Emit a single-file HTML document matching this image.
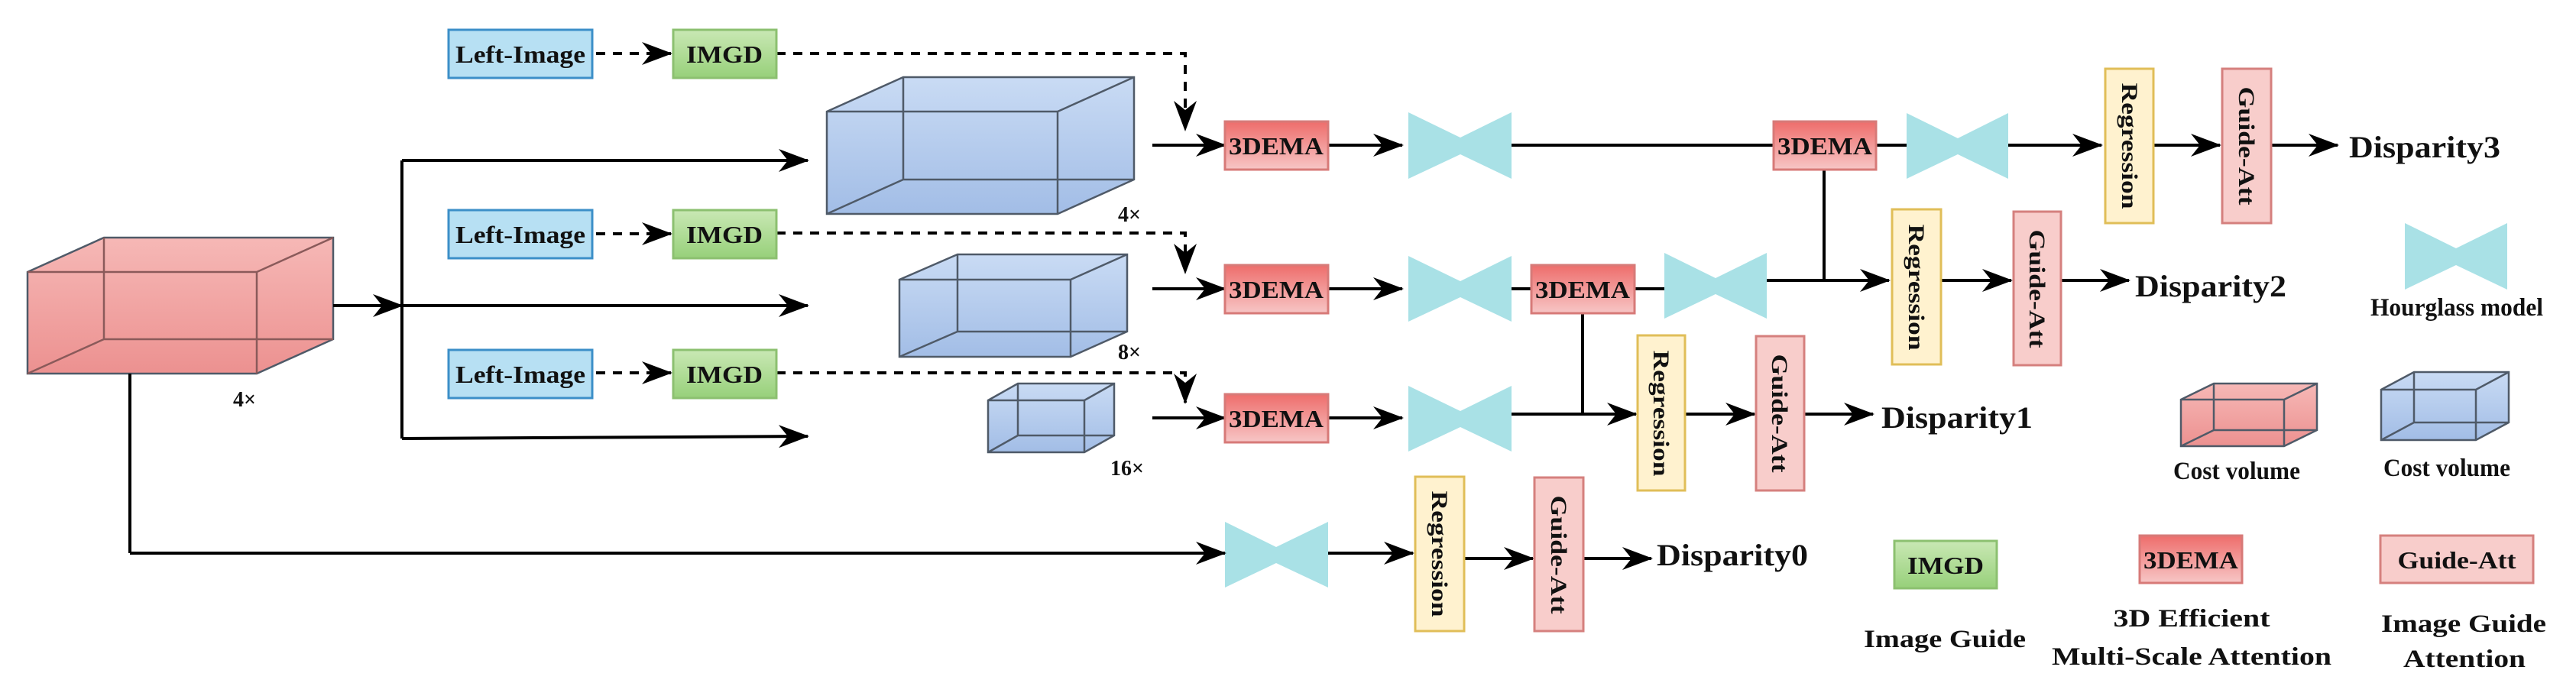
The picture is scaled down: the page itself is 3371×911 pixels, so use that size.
<!DOCTYPE html>
<html><head><meta charset="utf-8"><style>
html,body{margin:0;padding:0;background:#fff;}
svg{display:block;}
text{font-family:"Liberation Serif",serif;font-weight:bold;fill:#111;}
</style></head><body>
<svg width="3371" height="911" viewBox="0 0 3371 911" xmlns="http://www.w3.org/2000/svg">
<defs>
<marker id="ah" viewBox="0 0 40 30" refX="38" refY="15" markerWidth="40" markerHeight="30" markerUnits="userSpaceOnUse" orient="auto">
<path d="M0,0 L40,15 L0,30 L12,15 Z" fill="#000"/></marker>
<linearGradient id="gDema" x1="0" y1="0" x2="0" y2="1"><stop offset="0" stop-color="#ee6d6b"/><stop offset="1" stop-color="#f7c6c6"/></linearGradient>
<linearGradient id="gImgd" x1="0" y1="0" x2="0" y2="1"><stop offset="0" stop-color="#c9e8b4"/><stop offset="1" stop-color="#97d07a"/></linearGradient>
<linearGradient id="gBlue" x1="0" y1="0" x2="0" y2="1"><stop offset="0" stop-color="#c9dbf4"/><stop offset="1" stop-color="#a2bde6"/></linearGradient>
<linearGradient id="gRed" x1="0" y1="0" x2="0" y2="1"><stop offset="0" stop-color="#f6b8b6"/><stop offset="1" stop-color="#ec9190"/></linearGradient>
</defs>

<g stroke="#4f5a68" stroke-width="2.5">
<path d="M36,356 L136,311 L436,311 L436,444 L336,489 L36,489 Z" fill="url(#gRed)"/>
<path d="M36,356 H336 V489 M336,356 L436,311 M136,311 V444 H436 M136,444 L36,489" fill="none" stroke="#8a5a5a"/>
<path d="M1082,146 L1182,101 L1484,101 L1484,235 L1384,280 L1082,280 Z" fill="url(#gBlue)"/>
<path d="M1082,146 H1384 V280 M1384,146 L1484,101 M1182,101 V235 H1484 M1182,235 L1082,280" fill="none"/>
<path d="M1177,366 L1253,333 L1475,333 L1475,434 L1401,467 L1177,467 Z" fill="url(#gBlue)"/>
<path d="M1177,366 H1401 V467 M1401,366 L1475,333 M1253,333 V434 H1475 M1253,434 L1177,467" fill="none"/>
<path d="M1293,524 L1332,502 L1458,502 L1458,570 L1419,592 L1293,592 Z" fill="url(#gBlue)"/>
<path d="M1293,524 H1419 V592 M1419,524 L1458,502 M1332,502 V570 H1458 M1332,570 L1293,592" fill="none"/>
<path d="M2854,523 L2897,502 L3032,502 L3032,563 L2989,584 L2854,584 Z" fill="url(#gRed)"/>
<path d="M2854,523 H2989 V584 M2989,523 L3032,502 M2897,502 V563 H3032 M2897,563 L2854,584" fill="none"/>
<path d="M3116,510 L3159,487 L3283,487 L3283,553 L3240,576 L3116,576 Z" fill="url(#gBlue)"/>
<path d="M3116,510 H3240 V576 M3240,510 L3283,487 M3159,487 V553 H3283 M3159,553 L3116,576" fill="none"/>
</g>
<g font-size="28">
<text x="305" y="532">4×</text>
<text x="1463" y="290">4×</text>
<text x="1463" y="470">8×</text>
<text x="1453" y="622">16×</text>
</g>

<g fill="#a9e1e6">
<path d="M1843,147 L1911,180 L1978,147 L1978,234 L1911,202 L1843,234 Z"/>
<path d="M1843,335 L1911,368 L1978,335 L1978,421 L1911,389 L1843,421 Z"/>
<path d="M1843,505 L1911,538 L1978,505 L1978,591 L1911,559 L1843,591 Z"/>
<path d="M2178,331 L2245,364 L2312,331 L2312,417 L2245,385 L2178,417 Z"/>
<path d="M2495,148 L2562,181 L2628,148 L2628,234 L2562,202 L2495,234 Z"/>
<path d="M1603,683 L1670,716 L1738,683 L1738,769 L1670,737 L1603,769 Z"/>
<path d="M3147,292 L3214,325 L3281,292 L3281,379 L3214,347 L3147,379 Z"/>
</g>

<g stroke="#000" stroke-width="4" fill="none">
<line x1="436" y1="400" x2="526" y2="400" marker-end="url(#ah)"/>
<line x1="526" y1="210" x2="526" y2="574"/>
<line x1="526" y1="210" x2="1057" y2="210" marker-end="url(#ah)"/>
<line x1="526" y1="400" x2="1057" y2="400" marker-end="url(#ah)"/>
<line x1="526" y1="574" x2="1057" y2="571" marker-end="url(#ah)"/>
<line x1="170" y1="489" x2="170" y2="724"/>
<line x1="170" y1="724" x2="1603" y2="724" marker-end="url(#ah)"/>
<line x1="1508" y1="190" x2="1603" y2="190" marker-end="url(#ah)"/>
<line x1="1508" y1="378" x2="1603" y2="378" marker-end="url(#ah)"/>
<line x1="1508" y1="547" x2="1603" y2="547" marker-end="url(#ah)"/>
<line x1="1738" y1="190" x2="1835" y2="190" marker-end="url(#ah)"/>
<line x1="1738" y1="378" x2="1835" y2="378" marker-end="url(#ah)"/>
<line x1="1738" y1="547" x2="1835" y2="547" marker-end="url(#ah)"/>
<line x1="1978" y1="190" x2="2321" y2="190"/>
<line x1="2455" y1="190" x2="2495" y2="190"/>
<line x1="2628" y1="190" x2="2750" y2="190" marker-end="url(#ah)"/>
<line x1="2818" y1="190" x2="2905" y2="190" marker-end="url(#ah)"/>
<line x1="2972" y1="190" x2="3059" y2="190" marker-end="url(#ah)"/>
<line x1="2387" y1="222" x2="2387" y2="367"/>
<line x1="1978" y1="378" x2="2004" y2="378"/>
<line x1="2139" y1="378" x2="2178" y2="378"/>
<line x1="2312" y1="367" x2="2472" y2="367" marker-end="url(#ah)"/>
<line x1="2540" y1="367" x2="2632" y2="367" marker-end="url(#ah)"/>
<line x1="2697" y1="367" x2="2786" y2="367" marker-end="url(#ah)"/>
<line x1="2071" y1="410" x2="2071" y2="542"/>
<line x1="1978" y1="542" x2="2141" y2="542" marker-end="url(#ah)"/>
<line x1="2205" y1="542" x2="2296" y2="542" marker-end="url(#ah)"/>
<line x1="2361" y1="542" x2="2451" y2="542" marker-end="url(#ah)"/>
<line x1="1738" y1="724" x2="1849" y2="724" marker-end="url(#ah)"/>
<line x1="1916" y1="731" x2="2006" y2="731" marker-end="url(#ah)"/>
<line x1="2072" y1="731" x2="2161" y2="731" marker-end="url(#ah)"/>
</g>
<g stroke="#000" stroke-width="4" fill="none" stroke-dasharray="12 10">
<line x1="780" y1="70" x2="878" y2="70" marker-end="url(#ah)"/>
<line x1="780" y1="306" x2="878" y2="306" marker-end="url(#ah)"/>
<line x1="780" y1="488" x2="878" y2="488" marker-end="url(#ah)"/>
<polyline points="1016,70 1551,70 1551,170" marker-end="url(#ah)"/>
<polyline points="1016,305 1551,305 1551,357" marker-end="url(#ah)"/>
<polyline points="1016,488 1551,488 1551,527" marker-end="url(#ah)"/>
</g>

<g stroke-width="3">
<rect x="587" y="39" width="188" height="63" fill="#b7e0f3" stroke="#3c8fc8"/>
<rect x="587" y="275" width="188" height="63" fill="#b7e0f3" stroke="#3c8fc8"/>
<rect x="587" y="458" width="188" height="63" fill="#b7e0f3" stroke="#3c8fc8"/>
<rect x="881" y="39" width="135" height="63" fill="url(#gImgd)" stroke="#8cc070"/>
<rect x="881" y="275" width="135" height="63" fill="url(#gImgd)" stroke="#8cc070"/>
<rect x="881" y="458" width="135" height="63" fill="url(#gImgd)" stroke="#8cc070"/>
<rect x="2479" y="708" width="134" height="62" fill="url(#gImgd)" stroke="#8cc070"/>
<rect x="1603" y="159" width="135" height="63" fill="url(#gDema)" stroke="#d77a78"/>
<rect x="1603" y="347" width="135" height="63" fill="url(#gDema)" stroke="#d77a78"/>
<rect x="1603" y="516" width="135" height="63" fill="url(#gDema)" stroke="#d77a78"/>
<rect x="2321" y="159" width="134" height="63" fill="url(#gDema)" stroke="#d77a78"/>
<rect x="2004" y="347" width="135" height="63" fill="url(#gDema)" stroke="#d77a78"/>
<rect x="2800" y="701" width="134" height="62" fill="url(#gDema)" stroke="#d77a78"/>
<rect x="2755" y="90" width="63" height="202" fill="#fff2cf" stroke="#e0be58"/>
<rect x="2476" y="274" width="64" height="203" fill="#fff2cf" stroke="#e0be58"/>
<rect x="2143" y="439" width="62" height="203" fill="#fff2cf" stroke="#e0be58"/>
<rect x="1852" y="624" width="64" height="202" fill="#fff2cf" stroke="#e0be58"/>
<rect x="2908" y="90" width="64" height="202" fill="#f8cdcb" stroke="#d5807e"/>
<rect x="2635" y="277" width="62" height="201" fill="#f8cdcb" stroke="#d5807e"/>
<rect x="2298" y="440" width="63" height="202" fill="#f8cdcb" stroke="#d5807e"/>
<rect x="2008" y="625" width="64" height="201" fill="#f8cdcb" stroke="#d5807e"/>
<rect x="3115" y="701" width="200" height="62" fill="#f8cdcb" stroke="#d5807e"/>
</g>

<g font-size="32" text-anchor="middle">
<text x="681" y="82" textLength="170" lengthAdjust="spacingAndGlyphs">Left-Image</text>
<text x="681" y="318" textLength="170" lengthAdjust="spacingAndGlyphs">Left-Image</text>
<text x="681" y="501" textLength="170" lengthAdjust="spacingAndGlyphs">Left-Image</text>
<text x="948" y="82" textLength="100" lengthAdjust="spacingAndGlyphs">IMGD</text>
<text x="948" y="318" textLength="100" lengthAdjust="spacingAndGlyphs">IMGD</text>
<text x="948" y="501" textLength="100" lengthAdjust="spacingAndGlyphs">IMGD</text>
<text x="2546" y="751" textLength="100" lengthAdjust="spacingAndGlyphs">IMGD</text>
<text x="1670" y="202" textLength="124" lengthAdjust="spacingAndGlyphs">3DEMA</text>
<text x="1670" y="390" textLength="124" lengthAdjust="spacingAndGlyphs">3DEMA</text>
<text x="1670" y="559" textLength="124" lengthAdjust="spacingAndGlyphs">3DEMA</text>
<text x="2388" y="202" textLength="124" lengthAdjust="spacingAndGlyphs">3DEMA</text>
<text x="2071" y="390" textLength="124" lengthAdjust="spacingAndGlyphs">3DEMA</text>
<text x="2867" y="744" textLength="124" lengthAdjust="spacingAndGlyphs">3DEMA</text>
<text x="3215" y="744" textLength="155" lengthAdjust="spacingAndGlyphs">Guide-Att</text>
</g>
<g font-size="30" text-anchor="middle">
<text transform="translate(2777,191) rotate(90)" textLength="165" lengthAdjust="spacingAndGlyphs">Regression</text>
<text transform="translate(2498,376) rotate(90)" textLength="165" lengthAdjust="spacingAndGlyphs">Regression</text>
<text transform="translate(2164,541) rotate(90)" textLength="165" lengthAdjust="spacingAndGlyphs">Regression</text>
<text transform="translate(1874,725) rotate(90)" textLength="165" lengthAdjust="spacingAndGlyphs">Regression</text>
<text transform="translate(2930,191) rotate(90)" textLength="155" lengthAdjust="spacingAndGlyphs">Guide-Att</text>
<text transform="translate(2656,378) rotate(90)" textLength="155" lengthAdjust="spacingAndGlyphs">Guide-Att</text>
<text transform="translate(2319,541) rotate(90)" textLength="155" lengthAdjust="spacingAndGlyphs">Guide-Att</text>
<text transform="translate(2030,726) rotate(90)" textLength="155" lengthAdjust="spacingAndGlyphs">Guide-Att</text>
</g>

<g font-size="40">
<text x="3074" y="206" textLength="198" lengthAdjust="spacingAndGlyphs">Disparity3</text>
<text x="2794" y="388" textLength="198" lengthAdjust="spacingAndGlyphs">Disparity2</text>
<text x="2462" y="560" textLength="198" lengthAdjust="spacingAndGlyphs">Disparity1</text>
<text x="2168" y="740" textLength="198" lengthAdjust="spacingAndGlyphs">Disparity0</text>
</g>

<g font-size="33" text-anchor="middle">
<text x="3215" y="413" textLength="226" lengthAdjust="spacingAndGlyphs">Hourglass model</text>
<text x="2927" y="627" textLength="166" lengthAdjust="spacingAndGlyphs">Cost volume</text>
<text x="3202" y="623" textLength="166" lengthAdjust="spacingAndGlyphs">Cost volume</text>
<text x="2545" y="847" textLength="212" lengthAdjust="spacingAndGlyphs">Image Guide</text>
<text x="2868" y="820" textLength="205" lengthAdjust="spacingAndGlyphs">3D Efficient</text>
<text x="2868" y="870" textLength="366" lengthAdjust="spacingAndGlyphs">Multi-Scale Attention</text>
<text x="3224" y="827" textLength="216" lengthAdjust="spacingAndGlyphs">Image Guide</text>
<text x="3225" y="873" textLength="160" lengthAdjust="spacingAndGlyphs">Attention</text>
</g>
</svg>
</body></html>
